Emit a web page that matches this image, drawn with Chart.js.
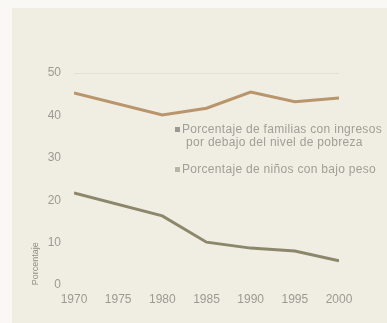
<!DOCTYPE html>
<html>
<head>
<meta charset="utf-8">
<script src="https://cdn.jsdelivr.net/npm/chart.js@4/dist/chart.umd.min.js"></script>
<style>
  html, body { margin: 0; padding: 0; background: #f9f8f4; }
  #wrap { position: relative; width: 387px; height: 323px; overflow: hidden; }
  #panel { position: absolute; left: 12px; top: 8px; right: 0; bottom: 0; background: #f0ede3; }
  #chart { position: absolute; left: 0; top: 0; }
  #legend { position: absolute; left: 174px; top: 123px; font-family: 'Liberation Sans', Arial, sans-serif;
            font-size: 12px; letter-spacing: 0.3px; color: #a09e96; line-height: 13px; white-space: nowrap; }
  #legend .item { position: relative; padding-left: 8px; }
  #legend .item + .item { margin-top: 14px; }
  #legend .sw { position: absolute; left: 1px; top: 4px; width: 5px; height: 5px; }
</style>
</head>
<body>
<div id="wrap">
  <div id="panel"></div>
  <canvas id="chart" width="387" height="323"></canvas>
  <div id="legend"></div>
</div>
<script>
// Years on the horizontal axis
const years = [1970, 1980, 1985, 1990, 1995, 2000];
// Share of families with income below the poverty line (%)
const familiasPobreza = [45.3, 40.1, 41.7, 45.5, 43.2, 44.1];
// Share of underweight children (%)
const ninosBajoPeso = [21.7, 16.3, 10.1, 8.7, 8.0, 5.7];
// Tick values
const xTicks = [1970, 1975, 1980, 1985, 1990, 1995, 2000];
const yTicks = [0, 10, 20, 30, 40, 50];

const seriesLabels = [
  ['Porcentaje de familias con ingresos', 'por debajo del nivel de pobreza'],
  ['Porcentaje de niños con bajo peso']
];
const lineColors = ['#b8956b', '#8c876b'];
const swatchColors = ['#9b9a92', '#b9b4a4'];

function toPoints(vals) { return years.map((y, i) => ({ x: y, y: vals[i] })); }

// Rotated y-axis caption near the bottom of the axis
const yCaption = {
  id: 'yCaption',
  afterDraw(chart) {
    const ctx = chart.ctx;
    const ys = chart.scales.y;
    ctx.save();
    ctx.translate(36, ys.getPixelForValue(5));
    ctx.rotate(-Math.PI / 2);
    ctx.font = "9px 'Liberation Sans', sans-serif";
    ctx.fillStyle = '#8f8d86';
    ctx.textAlign = 'center';
    ctx.textBaseline = 'middle';
    ctx.fillText('Porcentaje', 0, 0);
    ctx.restore();
  }
};

new Chart(document.getElementById('chart'), {
  type: 'line',
  data: {
    datasets: [
      { label: seriesLabels[0].join(' '), data: toPoints(familiasPobreza), borderColor: lineColors[0],
        borderWidth: 3, pointRadius: 0, tension: 0 },
      { label: seriesLabels[1].join(' '), data: toPoints(ninosBajoPeso), borderColor: lineColors[1],
        borderWidth: 3, pointRadius: 0, tension: 0 }
    ]
  },
  options: {
    responsive: false,
    animation: false,
    layout: { padding: { left: 0, top: 73, right: 48, bottom: 0 } },
    plugins: { legend: { display: false }, tooltip: { enabled: false } },
    scales: {
      x: {
        type: 'linear', min: 1970, max: 2000,
        afterBuildTicks: s => { s.ticks = xTicks.map(v => ({ value: v })); },
        afterFit: s => { s.height = 38; },
        grid: { display: false, drawTicks: false, tickLength: 0 }, border: { display: false },
        ticks: { padding: 7, color: '#9c9a92', maxRotation: 0, autoSkip: false,
                 font: { family: "'Liberation Sans Narrow', 'Liberation Sans', sans-serif", size: 12 },
                 callback: v => String(v) }
      },
      y: {
        min: 0, max: 50,
        afterBuildTicks: s => { s.ticks = yTicks.map(v => ({ value: v })); },
        afterFit: s => { s.width = 74; },
        grid: { color: ctx => ctx.tick && ctx.tick.value === 50 ? '#e3dfd3' : 'rgba(0,0,0,0)', lineWidth: 1, drawTicks: false },
        border: { display: false },
        ticks: { padding: 13, color: '#9c9a92',
                 font: { family: "'Liberation Sans Narrow', 'Liberation Sans', sans-serif", size: 12 } }
      }
    }
  },
  plugins: [yCaption]
});

// Legend built from the series labels
const legend = document.getElementById('legend');
seriesLabels.forEach((lines, i) => {
  const item = document.createElement('div');
  item.className = 'item';
  const sw = document.createElement('span');
  sw.className = 'sw';
  sw.style.background = swatchColors[i];
  item.appendChild(sw);
  lines.forEach((t, k) => {
    const d = document.createElement('div');
    d.textContent = t;
    if (k > 0) d.style.paddingLeft = '4px';
    item.appendChild(d);
  });
  legend.appendChild(item);
});
</script>
</body>
</html>
